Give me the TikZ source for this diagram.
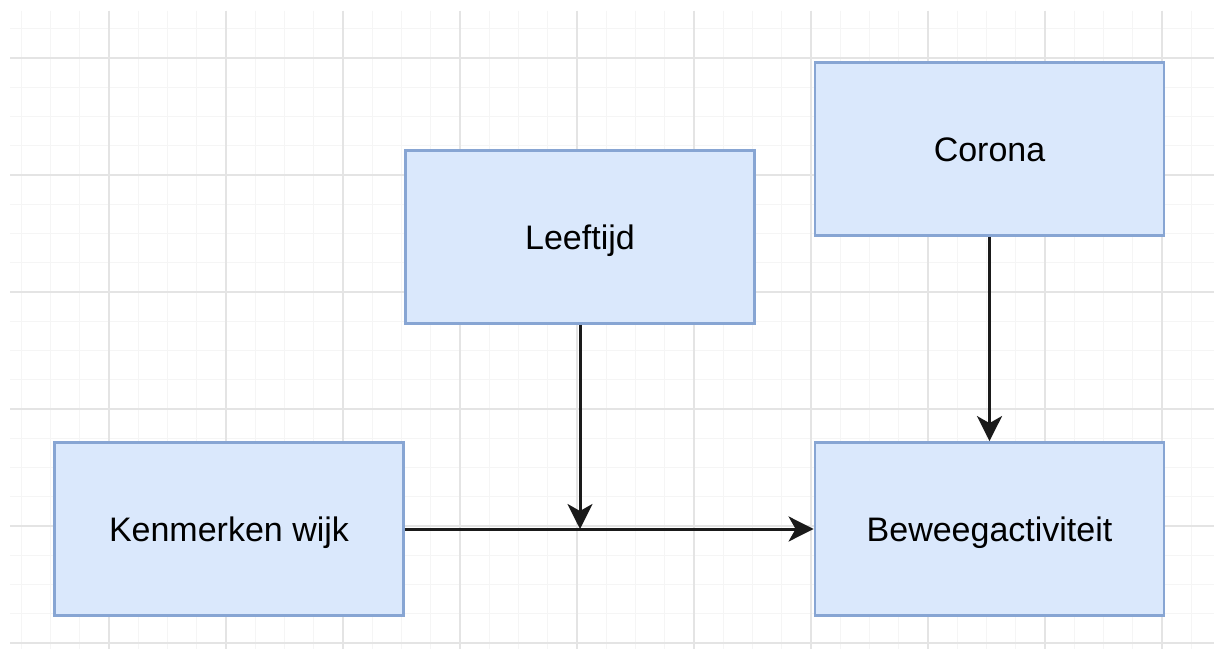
\documentclass[tikz,border=0pt]{standalone}
\usepackage{fontspec}
\setmainfont{Liberation Sans}
\usetikzlibrary{arrows.meta}
\definecolor{boxfill}{HTML}{DAE8FC}
\definecolor{boxline}{HTML}{87A5D3}
\definecolor{gridmajor}{HTML}{E4E4E4}
\definecolor{gridminor}{HTML}{F5F5F5}
\definecolor{wire}{HTML}{1A1A1A}
\tikzset{
  block/.style={draw=boxline, fill=boxfill, line width=2.8pt,
    minimum width=349pt, minimum height=173pt, inner sep=0pt,
    text height=24.5pt, text depth=0pt,
    font=\fontsize{34}{40}\selectfont, text=black},
  link/.style={draw=wire, line width=3pt,
    -{Stealth[length=25pt, width=25pt, inset=7pt]}},
}
\begin{document}
\begin{tikzpicture}[x=1pt, y=-1pt]
  \useasboundingbox (0,0) rectangle (1215,652);
  \fill[white] (0,0) rectangle (1215,652);
  % background grid: fine lines every 29.25, heavier every 117
  \foreach \i in {0,...,41} {
    \pgfmathsetmacro\gx{21.25+29.25*\i}
    \ifdim\gx pt<1214pt
      \draw[gridminor, line width=1.2pt] (\gx,11) -- (\gx,649);
    \fi
  }
  \foreach \i in {0,...,22} {
    \pgfmathsetmacro\gy{28.75+29.25*\i}
    \ifdim\gy pt<649pt
      \draw[gridminor, line width=1.2pt] (10,\gy) -- (1214,\gy);
    \fi
  }
  \foreach \i in {0,...,9} {
    \pgfmathsetmacro\gx{109+117*\i}
    \draw[gridmajor, line width=1.4pt] (\gx,11) -- (\gx,649);
  }
  \foreach \i in {0,...,5} {
    \pgfmathsetmacro\gy{58+117*\i}
    \draw[gridmajor, line width=1.4pt] (10,\gy) -- (1214,\gy);
  }

  % variables
  \node[block] (leeftijd) at (580,237) {Leeftijd};
  \node[block] (corona)   at (989.5,149) {Corona};
  \node[block] (wijk)     at (229,529) {Kenmerken wijk};
  \node[block] (beweeg)   at (989.5,529) {Beweegactiviteit};

  % relations
  \coordinate (mod) at (leeftijd.south |- wijk.east);
  \draw[link] (wijk.east) -- (beweeg.west);
  \draw[link] (leeftijd.south) -- (mod);
  \draw[link] (corona.south) -- (beweeg.north);
\end{tikzpicture}
\end{document}
